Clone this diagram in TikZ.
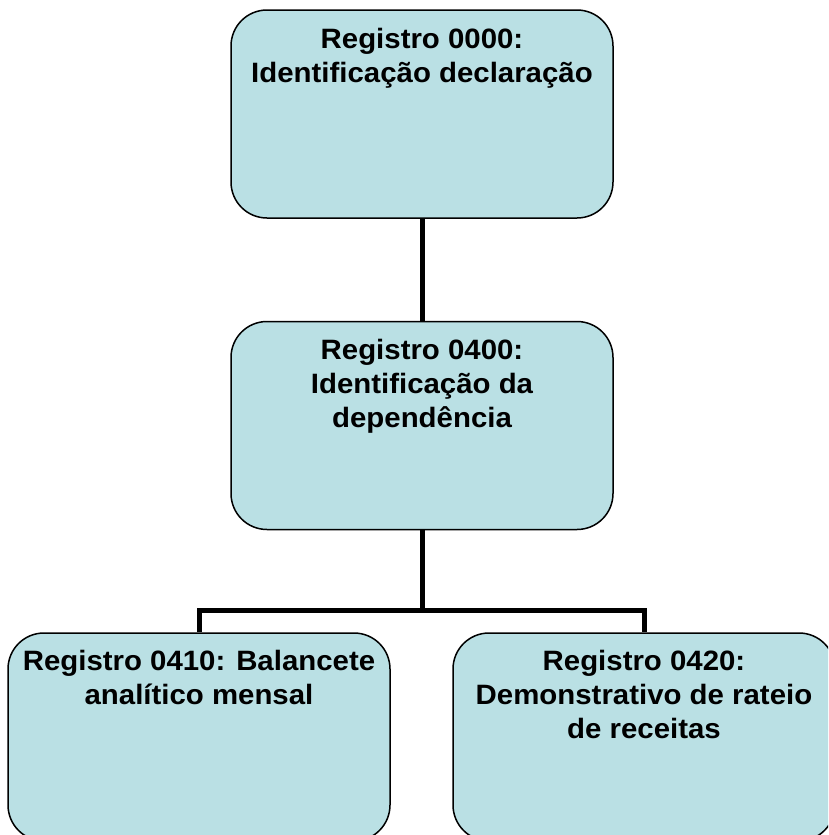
\documentclass[tikz,border=0pt]{standalone}
\usepackage{fontspec}
\setmainfont{Liberation Sans}[FakeStretch=1.05]
\definecolor{boxfill}{RGB}{186,224,228}
\begin{document}
\begin{tikzpicture}[x=1pt,y=-1pt,
  box/.style={draw=black,line width=1.5pt,fill=boxfill,rounded corners=36pt,
    minimum width=382pt,minimum height=208pt,inner sep=0pt},
  txt/.style={anchor=north,align=center,inner sep=0pt,
    font=\bfseries\fontsize{28}{34}\selectfont},
  conn/.style={line width=5pt,line join=miter}]
\useasboundingbox (0,0) rectangle (828,835);
\clip (0,0) rectangle (828,835);
\node[box] (a) at (422,114) {};
\node[box] (b) at (422,425.5) {};
\node[box] (c) at (199,737) {};
\node[box] (d) at (644,737) {};
\node[txt] (ta) at ([yshift=-18.5pt]a.north) {Registro 0000:\\Identificação declaração};
\node[txt] (tb) at ([yshift=-18.5pt]b.north) {Registro 0400:\\Identificação da\\dependência};
\node[txt] (tc) at ([yshift=-17.5pt]c.north) {Registro 0410: Balancete\\analítico mensal};
\node[txt] (td) at ([yshift=-17.5pt]d.north) {Registro 0420:\\Demonstrativo de rateio\\de receitas};
\coordinate (j) at (422,610);
\draw[conn] (a.south) -- (b.north);
\draw[conn] (b.south) -- (j);
\draw[conn] (c.north) |- (j) -| (d.north);
\end{tikzpicture}
\end{document}
